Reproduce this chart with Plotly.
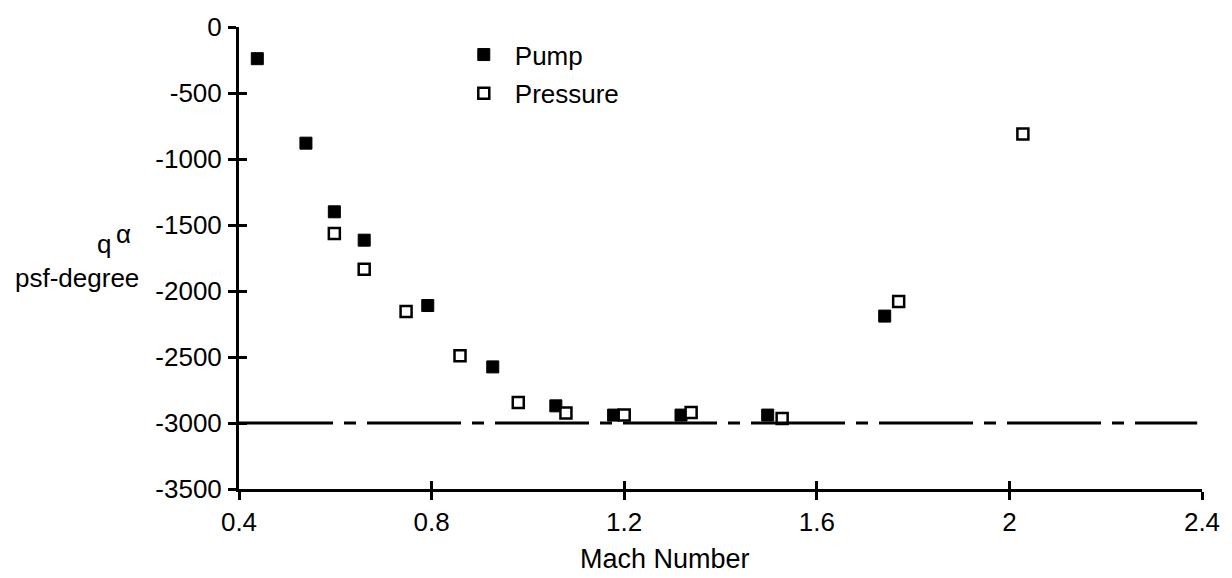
import plotly.graph_objects as go

# Measured angle-of-attack load (q-alpha) versus Mach number
mach_pump = [0.438, 0.539, 0.598, 0.660, 0.792, 0.927, 1.058, 1.178, 1.318, 1.498, 1.741]
q_pump = [-240, -880, -1400, -1615, -2110, -2575, -2870, -2940, -2940, -2940, -2190]

mach_pressure = [0.598, 0.660, 0.747, 0.859, 0.980, 1.079, 1.200, 1.339, 1.528, 1.770, 2.028]
q_pressure = [-1565, -1835, -2155, -2490, -2845, -2925, -2940, -2920, -2965, -2080, -810]

# Design limit line
limit_mach = [0.4, 2.39]
limit_q = [-3000, -3000]

x_ticks = [0.4, 0.8, 1.2, 1.6, 2.0, 2.4]
x_tick_text = ["0.4", "0.8", "1.2", "1.6", "2", "2.4"]
y_ticks = [0, -500, -1000, -1500, -2000, -2500, -3000, -3500]
y_tick_text = ["0", "-500", "-1000", "-1500", "-2000", "-2500", "-3000", "-3500"]

FONT = "Liberation Sans"
TICK_FS = 26

fig = go.Figure()

fig.add_trace(go.Scatter(
    x=limit_mach, y=limit_q, mode="lines", showlegend=False,
    line=dict(color="black", width=3, dash="94px,11px,12px,11px"),
    xaxis="x2", yaxis="y2", hoverinfo="skip",
))

fig.add_trace(go.Scatter(
    x=mach_pump, y=q_pump, mode="markers", name="Pump",
    marker=dict(symbol="square", size=12, color="black",
                line=dict(color="black", width=1)),
    cliponaxis=False, legendgroup="a",
))

fig.add_trace(go.Scatter(
    x=mach_pressure, y=q_pressure, mode="markers", name="Pressure",
    marker=dict(symbol="square", size=11, color="white",
                line=dict(color="black", width=2.5)),
    cliponaxis=False, legendgroup="b",
))

axis_common = dict(showgrid=False, zeroline=False, color="black",
                   tickfont=dict(family=FONT, size=TICK_FS, color="black"),
                   tickwidth=2.5, ticklen=8)

fig.update_layout(
    width=1232, height=578, autosize=False,
    margin=dict(l=239, r=21, t=21, b=89),
    paper_bgcolor="white", plot_bgcolor="white",
    font=dict(family=FONT, size=TICK_FS, color="black"),
    xaxis=dict(range=[0.4, 2.4], tickvals=x_ticks, ticktext=x_tick_text,
               ticks="outside", showline=True, linewidth=3, linecolor="black",
               ticklabelstandoff=0, **axis_common),
    yaxis=dict(range=[-3500, 0], tickvals=y_ticks, ticktext=y_tick_text,
               ticks="outside", showline=True, linewidth=3, linecolor="black",
               ticklabelstandoff=1, **axis_common),
    xaxis2=dict(range=[0.4, 2.4], tickvals=x_ticks, ticks="inside",
                showticklabels=False, showline=False, overlaying="x",
                anchor="y2", showgrid=False, zeroline=False,
                tickwidth=2.5, ticklen=8, tickcolor="black"),
    yaxis2=dict(range=[-3500, 0], tickvals=y_ticks, ticks="inside",
                showticklabels=False, showline=False, overlaying="y",
                anchor="x2", showgrid=False, zeroline=False,
                tickwidth=2.5, ticklen=8, tickcolor="black"),
    legend=dict(x=0.222, y=0.991, xanchor="left", yanchor="top",
                bgcolor="rgba(0,0,0,0)", itemwidth=52, tracegroupgap=2,
                font=dict(family=FONT, size=26, color="black")),
    showlegend=True,
)

fig.add_annotation(text="Mach Number", xref="paper", yref="paper",
                   x=0.442, y=-0.152, xanchor="center", yanchor="middle",
                   showarrow=False, font=dict(family=FONT, size=27))
fig.add_annotation(text="q", xref="paper", yref="paper",
                   x=-0.140, y=0.531, xanchor="center", yanchor="middle",
                   showarrow=False, font=dict(family=FONT, size=26))
fig.add_annotation(text="α", xref="paper", yref="paper",
                   x=-0.120, y=0.552, xanchor="center", yanchor="middle",
                   showarrow=False, font=dict(family=FONT, size=26))
fig.add_annotation(text="psf-degree", xref="paper", yref="paper",
                   x=-0.1019, y=0.456, xanchor="right", yanchor="middle",
                   showarrow=False, font=dict(family=FONT, size=26))

fig.write_html("out.html")
